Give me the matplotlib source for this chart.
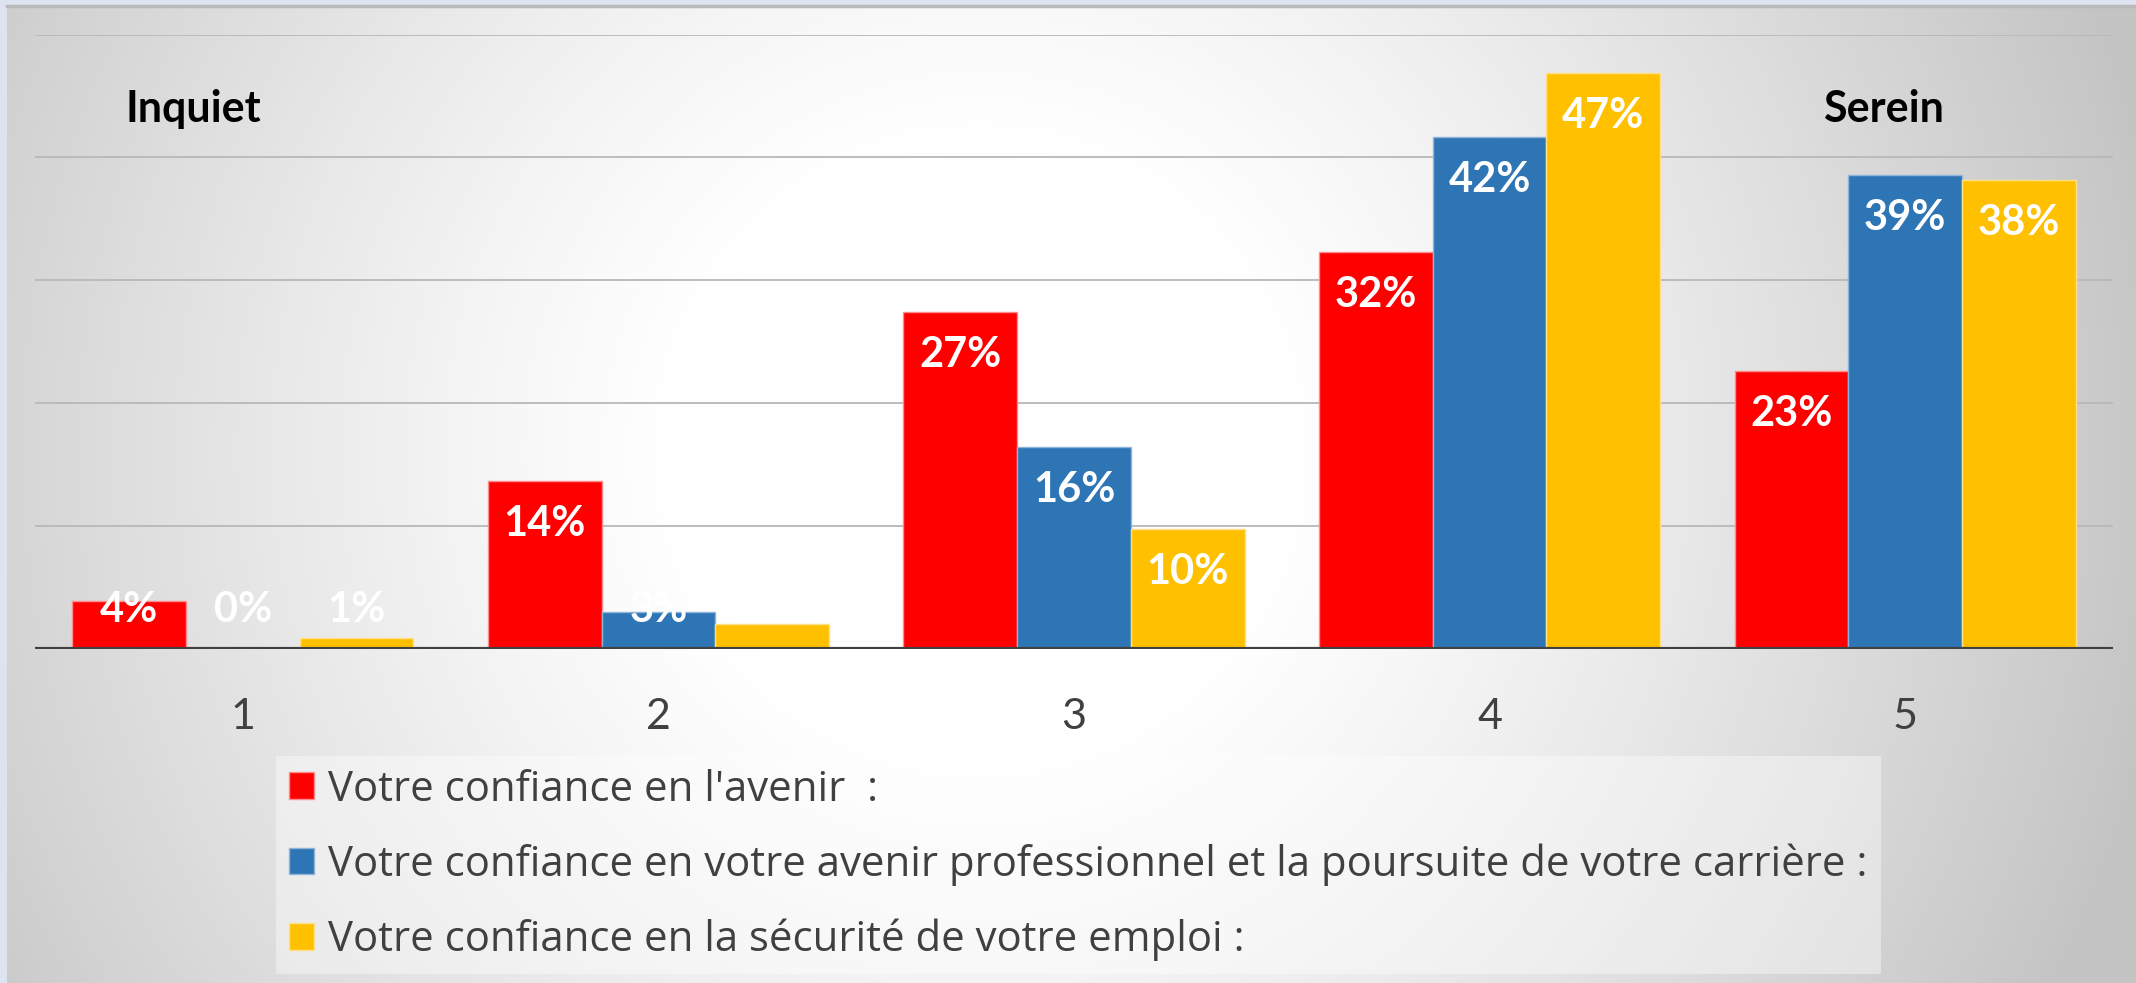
import numpy as np
import matplotlib.pyplot as plt

plt.rcParams["font.family"] = ["Lato", "DejaVu Sans"]

# data (percent)
categories = ["1", "2", "3", "4", "5"]
series_names = [
    "Votre confiance en l'avenir  :",
    "Votre confiance en votre avenir professionnel et la poursuite de votre carrière :",
    "Votre confiance en la sécurité de votre emploi :",
]
avenir = [3.9, 13.7, 27.4, 32.3, 22.6]
carriere = [0.0, 3.0, 16.4, 41.7, 38.6]
emploi = [0.9, 2.0, 9.8, 46.9, 38.2]
colors = ["#ff0000", "#2e75b6", "#ffc000"]
edges = ["#ff8c8c", "#8fb4d9", "#ffe08a"]

W, H = 2136, 983
fig = plt.figure(figsize=(W / 100, H / 100), dpi=100, facecolor="#dde4f0")

# grey radial backdrop of the chart panel
bg = fig.add_axes([7 / W, 0, 1 - 7 / W, 1 - 6 / H])
bg.axis("off")
xs = np.arange(7, W)
ys = np.arange(6, H)
gx, gy = np.meshgrid(xs, ys)
d = np.hypot(gx - 980, gy - 450)
shade = 1 - 0.23 * np.clip((d - 300) / 900, 0, 1) ** 1.2
bg.imshow(np.dstack([shade] * 3), aspect="auto", extent=(0, 1, 0, 1),
          interpolation="bilinear")
fig.add_artist(plt.Line2D([7 / W, 1], [1 - 6 / H] * 2, color="#b9b9b9", lw=2.5))

ax = fig.add_axes([35 / W, 334 / H, 2078 / W, 614.5 / H])
ax.patch.set_alpha(0)
for s in ax.spines.values():
    s.set_visible(False)

x = np.arange(len(categories))
w = 0.2736
bars = []
for j, vals in enumerate([avenir, carriere, emploi]):
    pos = x + (j - 1) * w
    b = ax.bar(pos, vals, w, color=colors[j], edgecolor=edges[j], lw=1, zorder=2)
    bars.append(b)
    for px, v in zip(pos, vals):
        ax.text(px, max(v - 3.5, 3.2), f"{v:.0f}%", ha="center", va="center",
                color="white", fontsize=30, fontweight="bold", zorder=4)

ax.set_xlim(-0.5, 4.5)
ax.set_ylim(0, 50)
ax.set_yticks([10, 20, 30, 40, 50])
ax.yaxis.grid(True, color="#b8b8b8", lw=1.3, zorder=0)
ax.set_axisbelow(True)
ax.axhline(0, color="#404040", lw=3, zorder=3)
ax.set_xticks(x, categories)
ax.tick_params(axis="x", length=0, pad=35, labelsize=31, labelcolor="#404040")
ax.tick_params(axis="y", length=0, labelleft=False)

fig.text(193 / W, 1 - 109 / H, "Inquiet", ha="center", va="center",
         fontsize=31, fontweight="bold", color="black")
fig.text(1883 / W, 1 - 109 / H, "Serein", ha="center", va="center",
         fontsize=31, fontweight="bold", color="black")

leg = fig.legend(bars, series_names, loc="upper left",
                 bbox_to_anchor=(276 / W, 1 - 756 / H), bbox_transform=fig.transFigure,
                 frameon=True, facecolor="white", framealpha=0.4, edgecolor="none",
                 fancybox=False, prop={"family": "Open Sans", "size": 30.2},
                 labelcolor="#404040",
                 handlelength=0.6, handleheight=0.6, handletextpad=0.35,
                 labelspacing=0.78, borderpad=0.3, borderaxespad=0)

fig.savefig("out.png", dpi=100, facecolor=fig.get_facecolor())
